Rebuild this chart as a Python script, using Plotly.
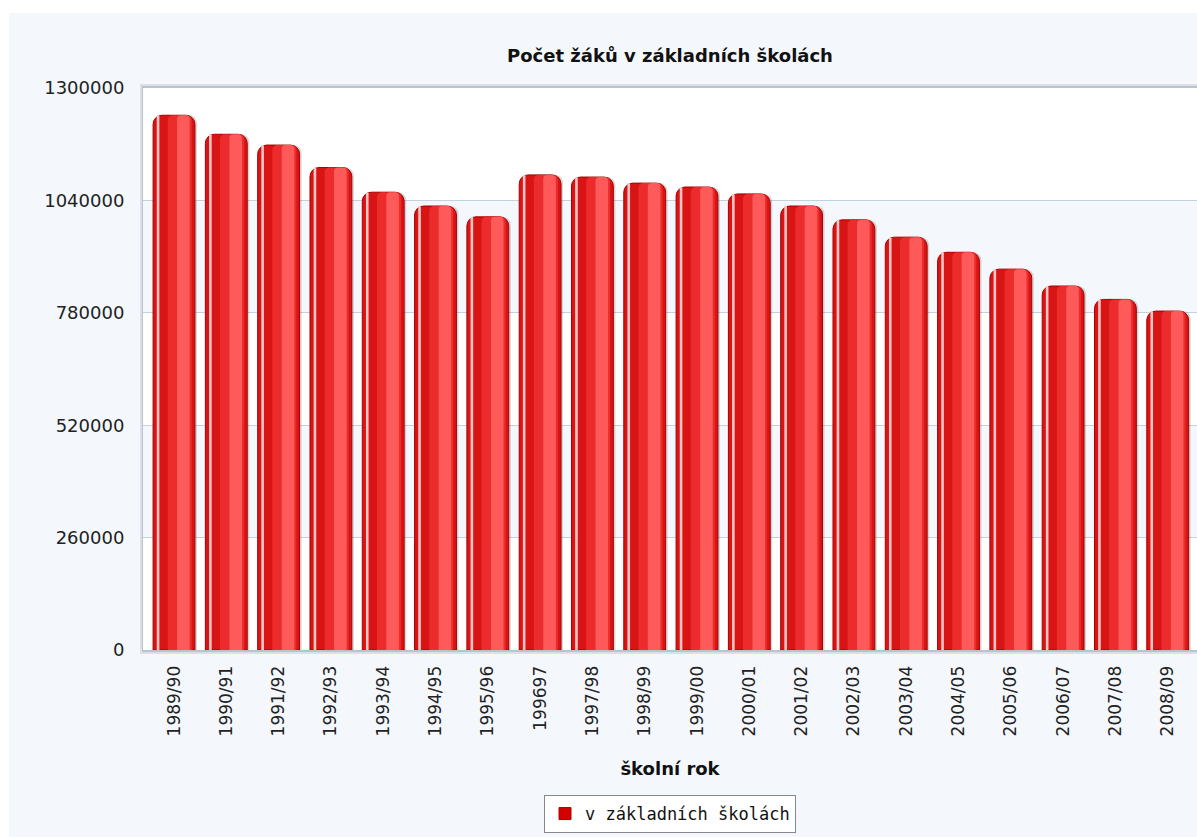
import plotly.graph_objects as go

# ---- data ----
categories = ["1989/90", "1990/91", "1991/92", "1992/93", "1993/94", "1994/95", "1995/96",
              "199697", "1997/98", "1998/99", "1999/00", "2000/01", "2001/02", "2002/03",
              "2003/04", "2004/05", "2005/06", "2006/07", "2007/08", "2008/09"]
values = [1237000, 1193000, 1168000, 1116000, 1059000, 1027000, 1002000,
          1099000, 1094000, 1080000, 1071000, 1055000, 1027000, 995000,
          955000, 920000, 881000, 842000, 811000, 784000]
y_ticks = [0, 260000, 520000, 780000, 1040000, 1300000]
series_name = "v základních školách"
title_text = "Počet žáků v základních školách"
x_title = "školní rok"

W, H = 1197, 837
L, R, T, B = 143, 0, 88, 187
PW, PH = W - L - R, H - T - B

def px_x(p):
    return (p - L) / PW

def px_y(p):
    return (H - B - p) / PH

fig = go.Figure()

# legend carrier (square icon), hidden inside the bar
fig.add_trace(go.Bar(x=categories, y=values, offset=0.0, width=0.0005, name=series_name,
                     marker=dict(color="#d40000", line=dict(color="#b00000", width=1)),
                     showlegend=True, hoverinfo="skip"))
# bar shadow
fig.add_trace(go.Bar(x=categories, y=values, offset=-0.36, width=0.80,
                     marker=dict(color="rgba(60,60,60,0.20)", cornerradius=8, line=dict(width=0)),
                     showlegend=False, hoverinfo="skip"))
# base bar
fig.add_trace(go.Bar(x=categories, y=values, offset=-0.40, width=0.80, name=series_name,
                     marker=dict(color="#d81414", cornerradius=9, line=dict(color="#a80000", width=1)),
                     showlegend=False))
# mid lighter band
fig.add_trace(go.Bar(x=categories, y=values, offset=-0.12, width=0.46,
                     marker=dict(color="#ec2c2c", cornerradius=5, line=dict(width=0)),
                     showlegend=False, hoverinfo="skip"))
# lightest band
fig.add_trace(go.Bar(x=categories, y=values, offset=0.06, width=0.24,
                     marker=dict(color="#ff5a5a", cornerradius=4, line=dict(width=0)),
                     showlegend=False, hoverinfo="skip"))
# left highlight stripe
fig.add_trace(go.Bar(x=categories, y=values, offset=-0.33, width=0.05,
                     marker=dict(color="#ffc4c4", cornerradius=1, line=dict(width=0)),
                     showlegend=False, hoverinfo="skip"))

shapes = []
# page light-blue background
shapes.append(dict(type="rect", xref="paper", yref="paper", layer="below",
                   x0=px_x(9), x1=px_x(W + 5), y0=px_y(H + 5), y1=px_y(13),
                   fillcolor="#f4f8fd", line=dict(width=0)))
# plot shadow
shapes.append(dict(type="rect", xref="paper", yref="paper", layer="below",
                   x0=px_x(L - 3), x1=px_x(W + 5), y0=px_y(H - B + 4), y1=px_y(T - 4),
                   fillcolor="rgba(170,180,190,0.35)", line=dict(width=0)))
shapes.append(dict(type="rect", xref="paper", yref="paper", layer="below",
                   x0=px_x(L - 1), x1=px_x(W + 5), y0=px_y(H - B + 2), y1=px_y(T - 2),
                   fillcolor="rgba(160,170,180,0.55)", line=dict(width=0)))
# white plot area
shapes.append(dict(type="rect", xref="paper", yref="paper", layer="below",
                   x0=0, x1=1.01, y0=0, y1=1,
                   fillcolor="#ffffff", line=dict(width=0)))
# alternating bands
for i in range(len(y_ticks) - 1):
    if i % 2 == 1:
        shapes.append(dict(type="rect", xref="paper", yref="y", layer="below",
                           x0=0, x1=1.01, y0=y_ticks[i], y1=y_ticks[i + 1],
                           fillcolor="#f4f8fd", line=dict(width=0)))

fig.update_layout(
    width=W, height=H,
    margin=dict(l=L, r=R, t=T, b=B, pad=0),
    paper_bgcolor="#ffffff",
    plot_bgcolor="rgba(0,0,0,0)",
    barmode="overlay",
    shapes=shapes,
    title=dict(text=title_text, x=0.5, xref="paper", xanchor="center",
               y=1 - 56 / H, yref="container", yanchor="middle",
               font=dict(family="DejaVu Sans", size=18, color="#111111", weight="bold")),
    xaxis=dict(type="category", range=[-0.593, 19.56], tickangle=-90,
               showgrid=False, zeroline=False, showline=False,
               ticks="outside", ticklen=8, tickcolor="rgba(0,0,0,0)",
               tickfont=dict(family="DejaVu Sans", size=17, color="#222222"),
               title=dict(text=x_title, standoff=26,
                          font=dict(family="DejaVu Sans", size=18, color="#111111", weight="bold"))),
    yaxis=dict(range=[0, 1300000], tickvals=y_ticks, ticktext=[str(v) for v in y_ticks],
               showgrid=True, gridcolor="#c3d0dd", gridwidth=1, zeroline=False, showline=False,
               ticks="outside", ticklen=14, tickcolor="rgba(0,0,0,0)",
               tickfont=dict(family="DejaVu Sans", size=18, color="#222222")),
    showlegend=True,
    legend=dict(orientation="h", x=0.5, xanchor="center", y=px_y(795), yanchor="top",
                bgcolor="#ffffff", bordercolor="#888888", borderwidth=1,
                itemwidth=30,
                font=dict(family="DejaVu Sans Mono", size=17, color="#111111")),
)

fig.write_html("out.html")
